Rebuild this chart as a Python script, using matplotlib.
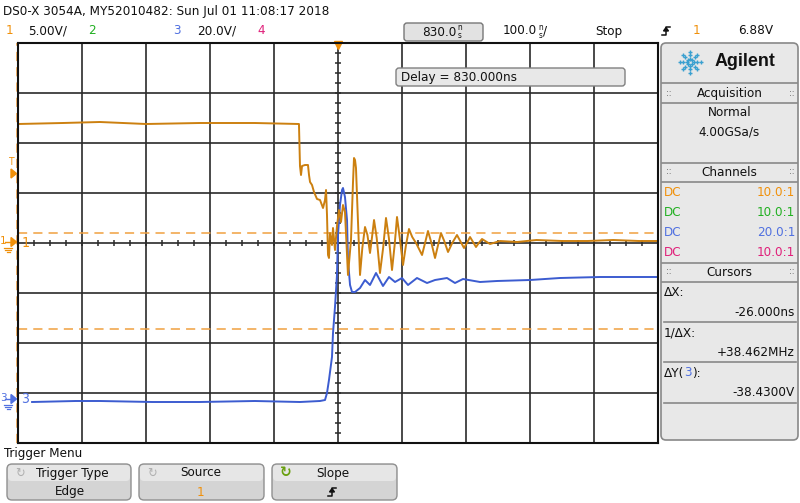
import numpy as np
import matplotlib
matplotlib.use('Agg')
import matplotlib.pyplot as plt
from matplotlib import font_manager as fm
from matplotlib.patches import FancyBboxPatch, Polygon
from matplotlib.lines import Line2D

# pick a narrow face if one is installed (scope UI uses a condensed font)
_fonts = fm.fontManager.ttflist
_names = {f.name for f in _fonts}
if 'Liberation Sans Narrow' in _names:
    FAMILY, STRETCH, SCALE = ['Liberation Sans Narrow', 'DejaVu Sans'], 'normal', 1.0
elif any(f.name == 'DejaVu Sans' and f.stretch in ('condensed', 'semi-condensed') for f in _fonts):
    FAMILY, STRETCH, SCALE = ['DejaVu Sans', 'DejaVu Sans'], 'condensed', 0.92
else:
    FAMILY, STRETCH, SCALE = ['Liberation Sans', 'DejaVu Sans'], 'normal', 0.9
plt.rcParams['font.family'] = FAMILY
plt.rcParams['font.stretch'] = STRETCH

# ----------------------------
# Scope settings
# ----------------------------
T_DIV = 100.0          # ns / div
DELAY = 830.0          # ns at screen centre
V_DIV1 = 5.0           # ch1 V/div
V_DIV3 = 20.0          # ch3 V/div
OFFSET3 = -3.12        # ch3 ground position (div)
Y_CURSORS3 = [66.43, 28.0]   # ch3 Y cursors (V)

# Channel 1 (orange) - time in ns, volts
t_ch1 = [330, 400, 458, 530, 614, 700, 769, 770.6, 772.2, 773.8, 778.4, 783.1, 784.7,
         786.3, 789.4, 792.5, 797.2, 801.9, 806.6, 809.7, 811.3, 812.8, 814.4, 815.9,
         817.5, 820.6, 822.2, 825.3, 828.4, 831.6, 834.7, 837.8, 840.9, 845.6, 850.3,
         853.4, 855.0, 856.6, 858.1, 861.3, 864.4, 868.0, 872.2, 876.0, 880.0, 883.0,
         886.3, 890.5, 895.6, 900.5, 905.0, 909.5, 914.4, 918.5, 922.2, 926.5, 931.6,
         936.0, 940.9, 946.0, 951.9, 961.3, 966.0, 970.6, 976.0, 981.6, 986.0, 990.9,
         996.0, 1001.9, 1008.5, 1015.9, 1021.0, 1026.9, 1031.5, 1036.3, 1041.0,
         1045.6, 1050.0, 1055.0, 1067.5, 1083.1, 1110, 1140, 1180, 1220, 1260, 1300, 1330]
v_ch1 = [11.9, 12.0, 12.1, 11.9, 12.0, 12.0, 11.9, 7.7, 6.8, 7.7, 7.8, 7.8, 6.8,
         6.1, 5.8, 5.1, 4.4, 4.3, 3.5, 4.3, 5.3, 2.8, -1.2, -1.5,
         1.0, -0.2, 1.5, -0.7, 1.7, 3.3, 2.1, 3.8, 3.1, -3.2, 0.3,
         6.0, 8.5, 8.3, 7.5, 2.0, -3.2, -0.5, 1.6, 0.8, -1.0, 0.5,
         2.3, 0.5, -3.0, -0.5, 2.5, 0.5, -2.7, -0.2, 2.6, 0.5, -2.2,
         -0.3, 1.4, 0.6, 0.0, -1.2, 0.0, 1.2, 0.0, -1.5, -0.3, 1.0,
         0.2, -0.9, 0.0, 0.8, 0.2, -0.5, 0.0, 0.6, 0.1,
         -0.4, 0.0, 0.4, -0.1, 0.2, 0.1, 0.3, 0.2, 0.2, 0.3, 0.2, 0.2]

# Channel 3 (blue) - time in ns, volts
t_ch3 = [352, 420, 458, 540, 614, 700, 770.6, 801.9, 809.7, 812.8, 815.9, 820.6,
         822.2, 825.3, 828.4, 830.0, 833.1, 836.3, 837.8, 840.9, 844.1, 845.6,
         848.8, 851.9, 856.6, 864.4, 872.2, 880.0, 889.4, 900.3, 909.7, 919.1,
         930.0, 939.4, 953.4, 969.1, 981.6, 1000.3, 1012.8, 1025.3, 1051.9,
         1078.4, 1130.0, 1176.9, 1239.1, 1290, 1330]
v_ch3 = [-1.2, -0.8, -0.8, -1.2, -1.2, -0.8, -1.2, -0.8, -0.4, 2.4, 7.6, 16.8,
         26.4, 36.8, 49.6, 65.6, 77.6, 83.6, 84.4, 80.8, 71.6, 55.6,
         45.6, 42.8, 42.8, 44.4, 47.6, 45.6, 50.4, 45.2, 48.8, 46.8,
         48.4, 45.6, 48.4, 46.4, 47.6, 48.4, 46.4, 48.0, 46.8,
         47.2, 47.6, 48.4, 48.8, 48.8, 48.8]

C1 = '#f0900a'
C1_TRACE = '#cc8010'
C2 = '#22b022'
C3 = '#5070e0'
C3_TRACE = '#3c5cd0'
C4 = '#e0207a'

W, H = 800, 503
fig = plt.figure(figsize=(W / 100, H / 100), dpi=100)
fig.patch.set_facecolor('white')
PX = fig.dpi_scale_trans
renderer = fig.canvas.get_renderer()


def txt(x, y, s, **kw):
    kw.setdefault('va', 'center')
    kw['size'] = kw.get('size', 10) * SCALE
    kw.setdefault('color', '#111111')
    return fig.text(x / 100, (H - y) / 100, s, transform=PX, **kw)


def right_of(t):
    return t.get_window_extent(renderer).x1


def box(x0, y0, x1, y1, r=4, fc='#e8e8e8', ec='#888888', lw=1.0):
    p = FancyBboxPatch((x0 / 100, (H - y1) / 100), (x1 - x0) / 100, (y1 - y0) / 100,
                       boxstyle=f'round,pad=0,rounding_size={r / 100}',
                       transform=PX, fc=fc, ec=ec, lw=lw)
    fig.add_artist(p)


def hline(x0, x1, y, color='#888888', lw=1.2):
    fig.add_artist(Line2D([x0 / 100, x1 / 100], [(H - y) / 100] * 2,
                          transform=PX, color=color, lw=lw))


def slope_icon(x, y, color='#111111'):
    # rising edge symbol
    xs = [x - 4, x, x, x + 4]
    ys = [y + 4, y + 4, y - 4, y - 4]
    fig.add_artist(Line2D([v / 100 for v in xs], [(H - v) / 100 for v in ys],
                          transform=PX, color=color, lw=1.1))
    fig.add_artist(Polygon([[(x - 2.5) / 100, (H - y) / 100],
                            [(x + 2.5) / 100, (H - y) / 100],
                            [x / 100, (H - y + 3.5) / 100]],
                           transform=PX, color=color))


def with_ns(x, y, value, tail='', size=10.5):
    t = txt(x, y, value, size=size)
    xr = right_of(t) + 1
    txt(xr, y - 4, 'n', size=6.5)
    u = txt(xr, y + 4, 's', size=6.5)
    if tail:
        txt(right_of(u) + 1, y, tail, size=size)


# ----------------------------
# Graticule + traces
# ----------------------------
ax = fig.add_axes([18 / W, 1 - 443 / H, 640 / W, 400 / H])
ax.set_xlim(DELAY - 5 * T_DIV, DELAY + 5 * T_DIV)
ax.set_ylim(-4, 4)
ax.set_xticks(np.arange(DELAY - 5 * T_DIV, DELAY + 5 * T_DIV + 1, T_DIV))
ax.set_yticks(np.arange(-4, 5, 1))
ax.tick_params(length=0, labelbottom=False, labelleft=False)
ax.grid(True, color='#2a2a2a', lw=1.2)
for s in ax.spines.values():
    s.set_color('#111111')
    s.set_linewidth(1.5)

# centre minor ticks
mx = np.arange(DELAY - 5 * T_DIV, DELAY + 5 * T_DIV + 1, T_DIV / 4)
ax.plot(mx, np.zeros_like(mx), ls='none', marker='|', ms=5, mew=1.1, color='#2a2a2a')
my = np.arange(-4, 4.01, 0.2)
ax.plot(np.full_like(my, DELAY), my, ls='none', marker='_', ms=5, mew=1.1, color='#2a2a2a')

# Y cursors (ch3)
for v in Y_CURSORS3:
    ax.axhline(v / V_DIV3 + OFFSET3, color='#f0a040', lw=1.1, ls=(0, (6, 4)))
# X cursor at left edge
ax.plot([DELAY - 5 * T_DIV - 1.6] * 2, [-4, 4], color='#f0a040', lw=1.1,
        ls=(0, (6, 4)), clip_on=False)

ax.plot(t_ch3, np.array(v_ch3) / V_DIV3 + OFFSET3, color=C3_TRACE, lw=1.4)
ax.plot(t_ch1, np.array(v_ch1) / V_DIV1, color=C1_TRACE, lw=1.4)

# trigger position marker
ax.plot([DELAY], [3.97], marker='v', ms=6, color=C1, clip_on=False)
ax.text(DELAY - 5 * T_DIV + 6, 0, '1', color=C1, size=11 * SCALE, va='center')
ax.text(DELAY - 5 * T_DIV + 5, OFFSET3, '3', color=C3, size=11 * SCALE, va='center')

# left-edge markers
txt(8, 162, 'T', color=C1, size=8)
fig.add_artist(Polygon([[11 / 100, (H - 169) / 100], [11 / 100, (H - 178) / 100],
                        [16.5 / 100, (H - 173.5) / 100]], transform=PX, color=C1))
for yy, lab, col in [(242, '1', C1), (399, '3', C3)]:
    txt(0, yy - 1, lab, color=col, size=9)
    fig.add_artist(Polygon([[11 / 100, (H - yy + 4.5) / 100], [11 / 100, (H - yy - 4.5) / 100],
                            [16.5 / 100, (H - yy) / 100]], transform=PX, color=col))
    hline(5, 11, yy, color=col, lw=1.0)
    for i, half in enumerate([4, 3, 1.5]):
        hline(8 - half, 8 + half, yy + 6 + 2 * i, color=col, lw=0.9)

# ----------------------------
# Top status bar
# ----------------------------
txt(3, 11, 'DS0-X 3054A, MY52010482: Sun Jul 01 11:08:17 2018', size=10.5)
txt(6, 31, '1', color=C1, size=10.5)
txt(28, 31, '5.00V/', size=10.5)
txt(88, 31, '2', color=C2, size=10.5)
txt(173, 31, '3', color=C3, size=10.5)
txt(197, 31, '20.0V/', size=10.5)
txt(257, 31, '4', color=C4, size=10.5)
box(404, 23, 483, 41, r=3, fc='#e2e2e2', ec='#777777')
with_ns(422, 32, '830.0')
with_ns(503, 31, '100.0', tail='/')
txt(595, 31, 'Stop', size=10.5)
slope_icon(666, 31)
txt(693, 31, '1', color=C1, size=10.5)
txt(738, 31, '6.88V', size=10.5)

# delay box
box(396, 68, 625, 86, r=3, fc='#e8e8e8', ec='#808080')
txt(401, 77, 'Delay = 830.000ns', size=10.5)

# ----------------------------
# Right side panel
# ----------------------------
box(661, 43, 798, 440, r=5, fc='#e8e8e8', ec='#888888', lw=1.2)
# logo
cx, cy = 690, 62
for k in range(8):
    a = k * np.pi / 4
    for rr in (3.5, 7, 10.5):
        xx, yy = cx + rr * np.cos(a), cy + rr * np.sin(a)
        fig.add_artist(Line2D([xx / 100], [(H - yy) / 100], transform=PX, marker='+',
                              ms=3 if rr > 4 else 2.5, mew=1.0, color='#3aa0d0'))
txt(715, 62, 'Agilent', size=14, weight='bold', family=['Liberation Sans', 'DejaVu Sans'],
    stretch='normal')

for yy in (83, 103, 163, 182, 263, 282):
    hline(662, 797, yy)
for yy in (322, 362, 403):
    hline(664, 796, yy)
for yy, lab in [(93, 'Acquisition'), (172, 'Channels'), (272, 'Cursors')]:
    txt(729.5, yy, lab, ha='center', size=10.5)
    txt(666, yy, '::', size=7, color='#444444')
    txt(789, yy, '::', size=7, color='#444444')
txt(729.5, 112, 'Normal', ha='center', size=10.5)
txt(729.5, 132, '4.00GSa/s', ha='center', size=10.5)
for yy, col in [(193, C1), (212, C2), (232, C3), (252, C4)]:
    txt(664, yy, 'DC', color=col, size=10.5)
    txt(795, yy, '20.0:1' if col == C3 else '10.0:1', color=col, size=10.5, ha='right')
txt(664, 293, 'ΔX:', size=10.5)
txt(795, 313, '-26.000ns', size=10.5, ha='right')
txt(664, 333, '1/ΔX:', size=10.5)
txt(795, 353, '+38.462MHz', size=10.5, ha='right')
t = txt(664, 373, 'ΔY(', size=10.5)
t = txt(right_of(t), 373, '3', size=10.5, color=C3)
txt(right_of(t), 373, '):', size=10.5)
txt(795, 393, '-38.4300V', size=10.5, ha='right')

# ----------------------------
# Bottom soft-key menu
# ----------------------------
txt(4, 453, 'Trigger Menu', size=10.5)
for x0, x1 in [(7, 131), (139, 264), (272, 397)]:
    box(x0, 464, x1, 500, r=5, fc='#d4d4d4', ec='#909090')
    box(x0 + 1, 465, x1 - 1, 481, r=4, fc='#e6e6e6', ec='none')
txt(72, 473, 'Trigger Type', size=10.5, ha='center')
txt(70, 492, 'Edge', size=10.5, ha='center')
txt(20, 473, '↻', size=10, ha='center', color='#b0b0b0', family='DejaVu Sans')
txt(201, 473, 'Source', size=10.5, ha='center')
txt(200, 492, '1', size=10.5, ha='center', color=C1)
txt(152, 473, '↻', size=10, ha='center', color='#b0b0b0', family='DejaVu Sans')
txt(333, 473, 'Slope', size=10.5, ha='center')
txt(286, 473, '↻', size=12, ha='center', color='#6aa010', weight='bold', family='DejaVu Sans')
slope_icon(332, 492)

fig.savefig('out.png', dpi=100, facecolor='white')
